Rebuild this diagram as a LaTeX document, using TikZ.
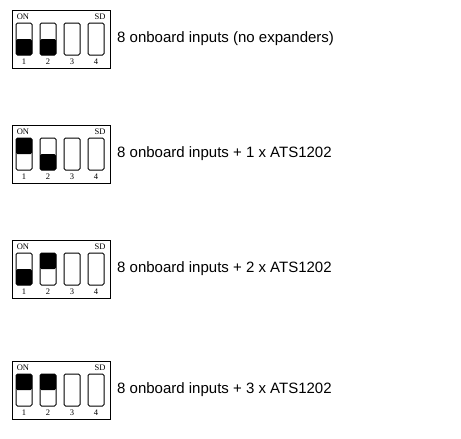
\documentclass[tikz,border=0pt]{standalone}
\usepackage{fontspec}
\setmainfont{Liberation Sans}
\newfontfamily\dipfont{Liberation Serif}
\usepackage{tikz}
\usetikzlibrary{positioning}

\begin{document}
\begin{tikzpicture}[x=1pt, y=-1pt,
    dipbox/.style={draw, line width=0.8pt},
    slot/.style={draw, line width=1pt, rounded corners=1.5pt},
    lever/.style={fill=black, rounded corners=1.5pt},
    diplabel/.style={font=\dipfont\fontsize{8.5}{9}\selectfont, inner sep=0pt},
    desc/.style={font=\fontsize{15}{17}\selectfont, anchor=west, inner sep=0pt}]
    \useasboundingbox (0,0) rectangle (461,439);

    % one DIP switch per row: top edge / lever 1 / lever 2 (1 = black on top)
    \foreach \r/\t/\a/\b/\txt in {1/10/0/0/{8 onboard inputs (no expanders)},
                                  2/125/1/0/{8 onboard inputs + 1 x ATS1202},
                                  3/240/0/1/{8 onboard inputs + 2 x ATS1202},
                                  4/361/1/1/{8 onboard inputs + 3 x ATS1202}} {
        \begin{scope}[yshift=-\t pt]
            % housing
            \draw[dipbox] (12,0) rectangle (110,58);
            \node[diplabel] (on\r) at (23,7) {ON};
            \node[diplabel] (sd\r) at (100,7) {SD};

            % levers 1 and 2
            \ifnum\a=1 \fill[lever] (16,13) rectangle (32,29);
            \else \fill[lever] (16,29) rectangle (32,45); \fi
            \ifnum\b=1 \fill[lever] (40,13) rectangle (56,29);
            \else \fill[lever] (40,29) rectangle (56,45); \fi

            % slots and numbers
            \foreach \i in {1,...,4} {
                \draw[slot] ({16+24*(\i-1)},13) rectangle ({32+24*(\i-1)},45);
                \node[diplabel] (num\r\i) at ({24+24*(\i-1)},52) {\i};
            }

            % description
            \node[desc] (txt\r) at (117,29) {\txt};
        \end{scope}
    }
\end{tikzpicture}
\end{document}
